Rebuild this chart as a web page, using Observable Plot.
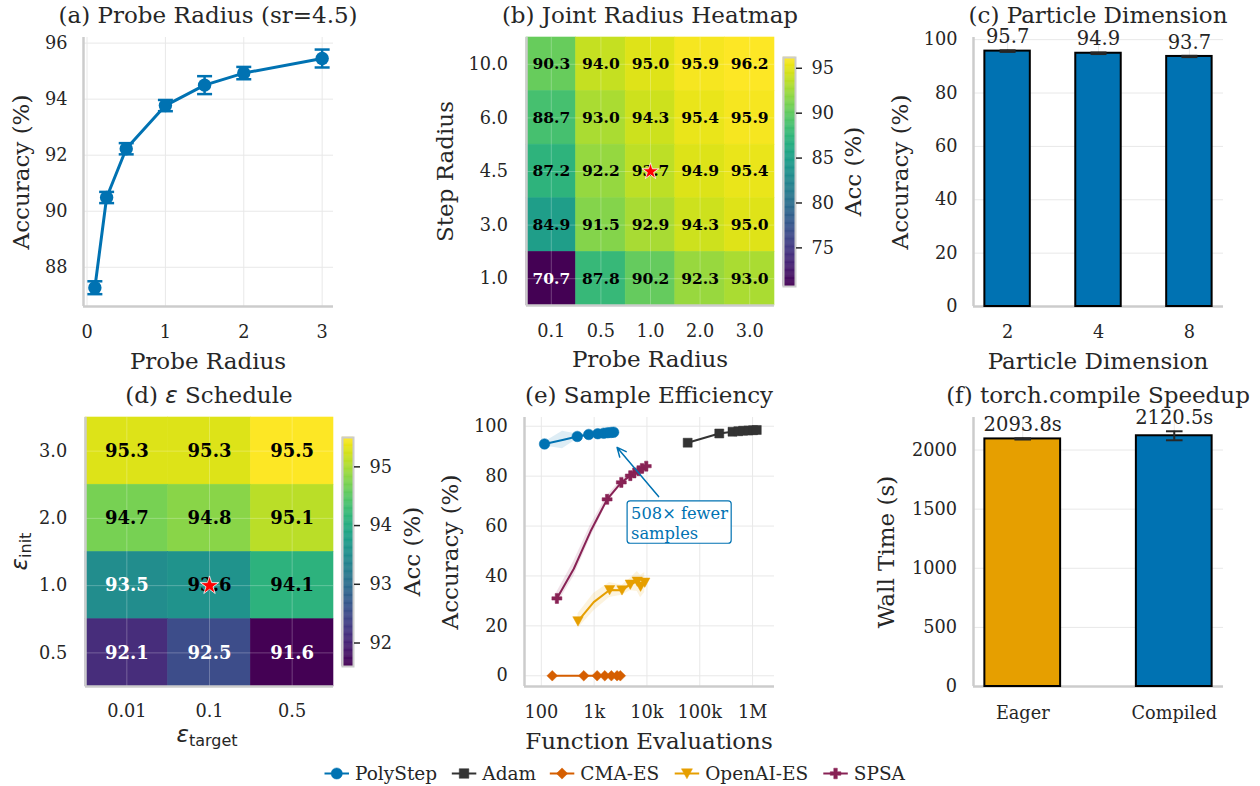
<!DOCTYPE html>
<html><head><meta charset="utf-8">
<script src="https://cdn.jsdelivr.net/npm/d3@7"></script>
<script src="https://cdn.jsdelivr.net/npm/@observablehq/plot@0.6"></script>
<style>
html,body{margin:0;padding:0;background:#fff;}
#fig{position:relative;width:1260px;height:786px;overflow:hidden;background:#fff;}
#fig svg{position:absolute;overflow:visible;max-width:none;}
</style></head>
<body><div id="fig"></div>
<script>
// ---------------- DATA ----------------
// (a) Probe radius sweep
const probeRadius = [0.1, 0.25, 0.5, 1.0, 1.5, 2.0, 3.0];
const probeAcc    = [87.27, 90.49, 92.23, 93.77, 94.50, 94.93, 95.45];
const probeStd    = [0.23, 0.20, 0.20, 0.20, 0.32, 0.22, 0.32];
const probeTicksX = [0, 1, 2, 3];
const probeTicksY = [88, 90, 92, 94, 96];
// (b) Joint radius heatmap
const gridProbe = ["0.1", "0.5", "1.0", "2.0", "3.0"];
const gridStep  = ["10.0", "6.0", "4.5", "3.0", "1.0"];
const gridAcc = [
  [90.3, 94.0, 95.0, 95.9, 96.2],
  [88.7, 93.0, 94.3, 95.4, 95.9],
  [87.2, 92.2, 93.7, 94.9, 95.4],
  [84.9, 91.5, 92.9, 94.3, 95.0],
  [70.7, 87.8, 90.2, 92.3, 93.0]
];
const gridBest = ["1.0", "4.5"];
const gridBarTicks = [75, 80, 85, 90, 95];
// (c) Particle dimension
const dimLabels = ["2", "4", "8"];
const dimAcc = [95.7, 94.9, 93.7];
const dimStd = [0.3, 0.3, 0.25];
const dimTicksY = [0, 20, 40, 60, 80, 100];
// (d) epsilon schedule
const epsTargets = ["0.01", "0.1", "0.5"];
const epsInits = ["3.0", "2.0", "1.0", "0.5"];
const epsAcc = [
  [95.3, 95.3, 95.5],
  [94.7, 94.8, 95.1],
  [93.5, 93.6, 94.1],
  [92.1, 92.5, 91.6]
];
const epsBest = ["0.1", "1.0"];
const epsBarTicks = [92, 93, 94, 95];
// (e) Sample efficiency
const methods = ["PolyStep", "Adam", "CMA-ES", "OpenAI-ES", "SPSA"];
const polyEvals  = [115, 252, 479, 790, 1170, 1520, 1810, 2090, 2340];
const polyAcc    = [92.9, 94.5, 95.9, 96.7, 97.0, 97.2, 97.4, 97.5, 97.6];
const polyStd    = [0.8, 3.5, 1.0, 0.5, 0.3, 0.3, 0.3, 0.3, 0.3];
const polyMarked = [1, 0, 1, 1, 1, 1, 1, 1, 1];
const adamEvals  = [59000, 234000, 417000, 537000, 661000, 832000, 1020000, 1200000];
const adamAcc    = [93.4, 97.1, 97.8, 98.0, 98.2, 98.3, 98.4, 98.5];
const cmaEvals   = [161, 636, 1140, 1590, 2120, 2720, 3130];
const cmaAcc     = [0, 0, 0, 0, 0, 0, 0];
const oaiEvals   = [494, 982, 1960, 3370, 4840, 6560, 7570, 9080];
const oaiAcc     = [21.9, 29.5, 34.4, 34.3, 36.6, 37.8, 35.8, 37.4];
const oaiStd     = [3.0, 3.5, 3.0, 2.0, 2.5, 4.0, 4.5, 4.0];
const oaiMarked  = [1, 0, 1, 1, 1, 1, 1, 1];
const spsaEvals  = [197, 412, 851, 1760, 3270, 4840, 5760, 6950, 8050, 9700];
const spsaAcc    = [31.0, 42.9, 57.8, 70.7, 77.5, 80.2, 81.3, 82.2, 83.1, 84.0];
const spsaStd    = [2.5, 3.0, 2.5, 1.5, 1.0, 1.0, 1.0, 1.0, 1.0, 1.0];
const spsaMarked = [1, 0, 0, 1, 1, 1, 1, 1, 1, 1];
const effTicksX = [100, 1000, 10000, 100000, 1000000];
const effTickLabels = ["100", "1k", "10k", "100k", "1M"];
const effTicksY = [0, 20, 40, 60, 80, 100];
const annotLines = ["508\u00d7 fewer", "samples"];
const annotTip = [2720, 91.5];
const annotTail = [16600, 71.8];
const annotTextAt = [5000, 61.5];
const annotBox = [4300, 402000, 52.9, 69.9];
// (f) torch.compile
const modes = ["Eager", "Compiled"];
const wallTime = [2093.8, 2120.5];
const wallStd = [5, 38];
const wallTicksY = [0, 500, 1000, 1500, 2000];

// ---------------- STYLE ----------------
const SERIF = "DejaVu Serif", SANS = "DejaVu Sans";
const TXT = "#262626", GRID = "#e8e8e8", SPINE = "#cccccc";
const BLUE = "#0072B2", ORANGE = "#E69F00", VERM = "#D55E00", WINE = "#882255", DARK = "#333333";
const spine = {stroke: SPINE, strokeWidth: 2.5};
const grid = {stroke: GRID, strokeOpacity: 1, strokeWidth: 1};
const plain = v => String(v);
const FIG = document.getElementById("fig");

function mkPlot(o) {
  return Plot.plot({
    style: {fontFamily: SERIF, fontSize: "17.7px", color: TXT, background: "transparent", overflow: "visible"},
    ...o
  });
}
function put(node, left, top) {
  node.style.position = "absolute";
  node.style.left = left + "px";
  node.style.top = top + "px";
  FIG.appendChild(node);
}
const mkSym = (f) => ({draw(ctx, size) { const r = Math.sqrt(size / Math.PI); f(ctx, r); }});
const capSym = mkSym((c, r) => { c.moveTo(-r, 0); c.lineTo(r, 0); });
const squareSym = mkSym((c, r) => { const s = r * 0.9; c.moveTo(-s, -s); c.lineTo(s, -s); c.lineTo(s, s); c.lineTo(-s, s); c.closePath(); });
const diamondSym = mkSym((c, r) => { c.moveTo(0, -r); c.lineTo(r, 0); c.lineTo(0, r); c.lineTo(-r, 0); c.closePath(); });
const triDownSym = mkSym((c, r) => { c.moveTo(-r, -r * 0.85); c.lineTo(r, -r * 0.85); c.lineTo(0, r * 0.95); c.closePath(); });
const plusSym = mkSym((c, r) => { const w = r / 3; c.moveTo(-w, -r); c.lineTo(w, -r); c.lineTo(w, -w); c.lineTo(r, -w); c.lineTo(r, w); c.lineTo(w, w); c.lineTo(w, r); c.lineTo(-w, r); c.lineTo(-w, w); c.lineTo(-r, w); c.lineTo(-r, -w); c.lineTo(-w, -w); c.closePath(); });
const circleSym = mkSym((c, r) => { c.moveTo(r, 0); c.arc(0, 0, r, 0, 2 * Math.PI); });

// ---------------- (a) ----------------
{
  const d = probeRadius.map((x, i) => ({x, y: probeAcc[i], lo: probeAcc[i] - probeStd[i], hi: probeAcc[i] + probeStd[i]}));
  const xd = [-0.045, 3.145], yd = [86.6, 96.2];
  put(mkPlot({
    width: 420, height: 380, marginLeft: 83, marginRight: 87, marginTop: 37, marginBottom: 74,
    x: {domain: xd}, y: {domain: yd},
    marks: [
      Plot.gridX(probeTicksX, grid), Plot.gridY(probeTicksY, grid),
      Plot.ruleX([xd[0]], spine), Plot.ruleY([yd[0]], spine),
      Plot.axisX(probeTicksX, {tickSize: 0, tickPadding: 19, tickFormat: plain, label: null}),
      Plot.axisY(probeTicksY, {tickSize: 0, tickPadding: 16, tickFormat: plain, label: null}),
      Plot.ruleX(d, {x: "x", y1: "lo", y2: "hi", stroke: BLUE, strokeWidth: 2.5}),
      Plot.dot(d, {x: "x", y: "lo", symbol: capSym, r: 7.5, stroke: BLUE, strokeWidth: 2.5, fill: "none"}),
      Plot.dot(d, {x: "x", y: "hi", symbol: capSym, r: 7.5, stroke: BLUE, strokeWidth: 2.5, fill: "none"}),
      Plot.line(d, {x: "x", y: "y", stroke: BLUE, strokeWidth: 3}),
      Plot.dot(d, {x: "x", y: "y", r: 6.7, fill: BLUE, stroke: "none"})
    ]
  }), 0, 0);
}

// ---------------- heatmap helper ----------------
function heatmap({cols, rows, vals, best, left, top, mL, mR, mT, mB, fs, starR, padX, padY}) {
  const nR = rows.length;
  const d = rows.flatMap((r, i) => cols.map((c, j) => ({j, k: nR - 1 - i, v: vals[i][j]})));
  const ext = d3.extent(d, e => e.v), mid = (ext[0] + ext[1]) / 2;
  const xt = cols.map((_, j) => j + 0.5), yt = rows.map((_, i) => nR - 1 - i + 0.5);
  const bj = cols.indexOf(best[0]), bk = nR - 1 - rows.indexOf(best[1]);
  const txt = {x: e => e.j + 0.5, y: e => e.k + 0.5, text: e => e.v.toFixed(1), fontWeight: "bold", fontSize: fs};
  put(mkPlot({
    width: 420, height: 380, marginLeft: mL, marginRight: mR, marginTop: mT, marginBottom: mB,
    x: {domain: [0, cols.length]}, y: {domain: [0, nR]},
    color: {type: "linear", scheme: "viridis", domain: ext},
    marks: [
      Plot.rect(d, {x1: "j", x2: e => e.j + 1, y1: "k", y2: e => e.k + 1, fill: "v", stroke: "v", strokeWidth: 0.6}),
      Plot.gridX(xt, {stroke: "white", strokeOpacity: 0.25, strokeWidth: 1}),
      Plot.gridY(yt, {stroke: "white", strokeOpacity: 0.25, strokeWidth: 1}),
      Plot.ruleX([0], spine), Plot.ruleY([0], spine),
      Plot.axisX(xt, {tickSize: 0, tickPadding: padX, tickFormat: v => cols[Math.round(v - 0.5)], label: null}),
      Plot.axisY(yt, {tickSize: 0, tickPadding: padY, tickFormat: v => rows[nR - 1 - Math.round(v - 0.5)], label: null}),
      Plot.text(d.filter(e => e.v >= mid), {...txt, fill: "black"}),
      Plot.text(d.filter(e => e.v < mid), {...txt, fill: "white"}),
      Plot.dot([{j: bj, k: bk}], {x: e => e.j + 0.5, y: e => e.k + 0.5, symbol: "star", r: starR, fill: "red", stroke: "white", strokeWidth: 0.8})
    ]
  }), left, top);
  return ext;
}
function colorbar(ext, ticks, left, top, w, h) {
  const N = 200;
  const steps = d3.range(N).map(k => ({a: ext[0] + (ext[1] - ext[0]) * k / N, b: ext[0] + (ext[1] - ext[0]) * (k + 1) / N}));
  put(mkPlot({
    width: w + 60, height: h, marginLeft: 0, marginRight: 60, marginTop: 0, marginBottom: 0,
    x: {domain: [0, 1], axis: null}, y: {domain: ext},
    color: {type: "linear", scheme: "viridis", domain: ext},
    marks: [
      Plot.rect(steps, {x1: 0, x2: 1, y1: "a", y2: "b", fill: s => (s.a + s.b) / 2, stroke: s => (s.a + s.b) / 2, strokeWidth: 0.5}),
      Plot.frame({stroke: SPINE, strokeWidth: 2}),
      Plot.axisY(ticks, {anchor: "right", tickSize: 6, tickPadding: 10, strokeWidth: 1.5, tickFormat: plain, label: null})
    ]
  }), left, top);
}

// ---------------- (b) ----------------
{
  const ext = heatmap({cols: gridProbe, rows: gridStep, vals: gridAcc, best: gridBest, left: 420, top: 0,
    mL: 106, mR: 66, mT: 37, mB: 75, fs: 15.5, starR: 5.2, padX: 18.5, padY: 18.5});
  colorbar(ext, gridBarTicks, 783, 57, 12, 229);
}

// ---------------- (c) ----------------
{
  const d = dimLabels.map((l, i) => ({i, v: dimAcc[i], e: dimStd[i]}));
  const xd = [-0.375, dimLabels.length - 1 + 0.375], yd = [0, 100.8];
  const xi = d.map(e => e.i);
  put(mkPlot({
    width: 420, height: 380, marginLeft: 133, marginRight: 37, marginTop: 37, marginBottom: 74,
    x: {domain: xd}, y: {domain: yd},
    marks: [
      Plot.gridY(dimTicksY, grid), Plot.gridX(xi, grid),
      Plot.ruleX([xd[0]], spine), Plot.ruleY([0], spine),
      Plot.axisX(xi, {tickSize: 0, tickPadding: 19, tickFormat: i => dimLabels[i], label: null}),
      Plot.axisY(dimTicksY, {tickSize: 0, tickPadding: 16, tickFormat: plain, label: null}),
      Plot.rect(d, {x1: e => e.i - 0.25, x2: e => e.i + 0.25, y1: 0, y2: "v", fill: BLUE, stroke: "black", strokeWidth: 2}),
      Plot.ruleX(d, {x: "i", y1: e => e.v - e.e, y2: e => e.v + e.e, stroke: TXT, strokeWidth: 2}),
      Plot.dot(d, {x: "i", y: e => e.v - e.e, symbol: capSym, r: 8, stroke: TXT, strokeWidth: 2, fill: "none"}),
      Plot.dot(d, {x: "i", y: e => e.v + e.e, symbol: capSym, r: 8, stroke: TXT, strokeWidth: 2, fill: "none"}),
      Plot.text(d, {x: "i", y: e => e.v + e.e, text: e => e.v.toFixed(1), dy: -7, lineAnchor: "bottom", fontSize: 19.5, fill: TXT})
    ]
  }), 840, 0);
}

// ---------------- (d) ----------------
{
  const ext = heatmap({cols: epsTargets, rows: epsInits, vals: epsAcc, best: epsBest, left: 0, top: 380,
    mL: 85, mR: 87, mT: 37, mB: 74, fs: 18, starR: 5.8, padX: 17.5, padY: 18.3});
  colorbar(ext, epsBarTicks, 342, 437, 11, 229);
}

// ---------------- (e) ----------------
{
  const mk = (ev, acc, sd, mkd) => ev.map((x, i) => ({x, y: acc[i], lo: sd ? acc[i] - sd[i] : null, hi: sd ? acc[i] + sd[i] : null, m: mkd ? mkd[i] : 1}));
  const series = [
    {name: methods[0], d: mk(polyEvals, polyAcc, polyStd, polyMarked), color: BLUE, sym: circleSym, r: 5.3, band: true},
    {name: methods[1], d: mk(adamEvals, adamAcc, null, null), color: DARK, sym: squareSym, r: 5.0, band: false},
    {name: methods[2], d: mk(cmaEvals, cmaAcc, null, null), color: VERM, sym: diamondSym, r: 5.3, band: false},
    {name: methods[3], d: mk(oaiEvals, oaiAcc, oaiStd, oaiMarked), color: ORANGE, sym: triDownSym, r: 5.2, band: true},
    {name: methods[4], d: mk(spsaEvals, spsaAcc, spsaStd, spsaMarked), color: WINE, sym: plusSym, r: 5.0, band: true}
  ];
  const xd = [48, 2.6e6], yd = [-4.3, 103.5];
  const marks = [
    Plot.gridX(effTicksX, grid), Plot.gridY(effTicksY, grid),
    Plot.ruleX([xd[0]], spine), Plot.ruleY([yd[0]], spine),
    Plot.axisX(effTicksX, {tickSize: 0, tickPadding: 19, tickFormat: v => effTickLabels[effTicksX.indexOf(v)], label: null}),
    Plot.axisY(effTicksY, {tickSize: 0, tickPadding: 16.7, tickFormat: plain, label: null})
  ];
  for (const s of series) if (s.band) marks.push(Plot.areaY(s.d, {x: "x", y1: "lo", y2: "hi", fill: s.color, fillOpacity: 0.13}));
  for (const s of series) {
    marks.push(Plot.line(s.d, {x: "x", y: "y", stroke: s.color, strokeWidth: 2}));
    marks.push(Plot.dot(s.d.filter(e => e.m), {x: "x", y: "y", symbol: s.sym, r: s.r, fill: s.color, stroke: s.color, strokeWidth: 0.5}));
  }
  marks.push(Plot.arrow([0], {x1: annotTail[0], y1: annotTail[1], x2: annotTip[0], y2: annotTip[1], stroke: BLUE, strokeWidth: 1.5, headLength: 10, headAngle: 50}));
  marks.push(Plot.rect([0], {x1: annotBox[0], x2: annotBox[1], y1: annotBox[2], y2: annotBox[3], fill: "white", fillOpacity: 0.9, stroke: BLUE, strokeWidth: 1.2, rx: 3}));
  marks.push(Plot.text([annotLines.join("\n")], {x: annotTextAt[0], y: annotTextAt[1], text: t => t, textAnchor: "start", lineAnchor: "middle", lineHeight: 1.23, fontSize: 16.3, fill: BLUE}));
  put(mkPlot({
    width: 420, height: 380, marginLeft: 104, marginRight: 66, marginTop: 37, marginBottom: 74,
    x: {type: "log", domain: xd}, y: {domain: yd},
    marks
  }), 420, 380);
  window.__series = series;
}

// ---------------- (f) ----------------
{
  const d = modes.map((m, i) => ({i, v: wallTime[i], e: wallStd[i]}));
  const xd = [-0.325, modes.length - 1 + 0.325], yd = [0, 2275];
  const xi = d.map(e => e.i);
  const cols = [ORANGE, BLUE];
  put(mkPlot({
    width: 420, height: 380, marginLeft: 133, marginRight: 37, marginTop: 37, marginBottom: 74,
    x: {domain: xd}, y: {domain: yd},
    marks: [
      Plot.gridY(wallTicksY, grid), Plot.gridX(xi, grid),
      Plot.ruleX([xd[0]], spine), Plot.ruleY([0], spine),
      Plot.axisX(xi, {tickSize: 0, tickPadding: 19.5, tickFormat: i => modes[i], label: null}),
      Plot.axisY(wallTicksY, {tickSize: 0, tickPadding: 16.6, tickFormat: plain, label: null}),
      ...d.map(e => Plot.rect([e], {x1: r => r.i - 0.25, x2: r => r.i + 0.25, y1: 0, y2: "v", fill: cols[e.i], stroke: "black", strokeWidth: 2})),
      Plot.ruleX(d, {x: "i", y1: e => e.v - e.e, y2: e => e.v + e.e, stroke: TXT, strokeWidth: 2}),
      Plot.dot(d, {x: "i", y: e => e.v - e.e, symbol: capSym, r: 8.3, stroke: TXT, strokeWidth: 2, fill: "none"}),
      Plot.dot(d, {x: "i", y: e => e.v + e.e, symbol: capSym, r: 8.3, stroke: TXT, strokeWidth: 2, fill: "none"}),
      Plot.text(d, {x: "i", y: e => e.v + e.e, text: e => e.v.toFixed(1) + "s", dy: -7, lineAnchor: "bottom", fontSize: 19.5, fill: TXT})
    ]
  }), 840, 380);
}

// ---------------- overlay: titles, axis labels, legend ----------------
const ov = d3.create("svg").attr("width", 1260).attr("height", 786)
  .style("position", "absolute").style("left", "0px").style("top", "0px").style("overflow", "visible");
FIG.appendChild(ov.node());
function T(x, y, parts, o = {}) {
  const {size = 23, anchor = "middle", rot = false} = o;
  const t = ov.append("text").attr("transform", `translate(${x},${y})${rot ? " rotate(-90)" : ""}`)
    .attr("text-anchor", anchor).attr("font-family", SERIF).attr("font-size", size).attr("fill", TXT);
  for (const p of [].concat(parts)) {
    const s = t.append("tspan").text(typeof p === "string" ? p : p.t);
    if (p.sans) s.attr("font-family", SANS);
    if (p.it) s.attr("font-style", "italic");
    if (p.sub) s.attr("font-size", p.sub).attr("dy", p.dy);
  }
  return t;
}
// titles
T(208, 22.5, "(a) Probe Radius (sr=4.5)");
T(650, 22.5, "(b) Joint Radius Heatmap");
T(1098, 22.5, "(c) Particle Dimension");
T(209, 402.5, ["(d) ", {t: "\u03b5", sans: true, it: true}, " Schedule"]);
T(649, 402.5, "(e) Sample Efficiency");
T(1098, 402.5, "(f) torch.compile Speedup");
// x labels
T(208, 369, "Probe Radius");
T(650, 367, "Probe Radius");
T(1098, 369, "Particle Dimension");
T(207, 742, [{t: "\u03b5", sans: true, it: true}, {t: "target", sans: true, sub: 16, dy: 4}]);
T(649, 749, "Function Evaluations");
// y labels
T(29, 172, "Accuracy (%)", {rot: true});
T(453, 171.5, "Step Radius", {rot: true});
T(861, 171.5, "Acc (%)", {rot: true});
T(907.5, 172, "Accuracy (%)", {rot: true});
T(27, 551.5, [{t: "\u03b5", sans: true, it: true}, {t: "init", sans: true, sub: 16, dy: 4}], {rot: true});
T(420, 551.5, "Acc (%)", {rot: true});
T(457.5, 552, "Accuracy (%)", {rot: true});
T(894, 552, "Wall Time (s)", {rot: true});
// legend
{
  const series = window.__series;
  const lx = [324.5, 451.8, 549.8, 674.7, 823.3];
  const ly = 773.5;
  series.forEach((s, i) => {
    const g = ov.append("g");
    g.append("line").attr("x1", lx[i]).attr("x2", lx[i] + 24.5).attr("y1", ly).attr("y2", ly).attr("stroke", s.color).attr("stroke-width", 2);
    g.append("path").attr("d", d3.symbol().type(s.sym).size(Math.PI * (s.r + 0.3) ** 2)()).attr("transform", `translate(${lx[i] + 12.25},${ly})`).attr("fill", s.color).attr("stroke", s.color).attr("stroke-width", 0.5);
    T(lx[i] + 30.5, 780, s.name, {size: 18.5, anchor: "start"});
  });
}
</script></body></html>
